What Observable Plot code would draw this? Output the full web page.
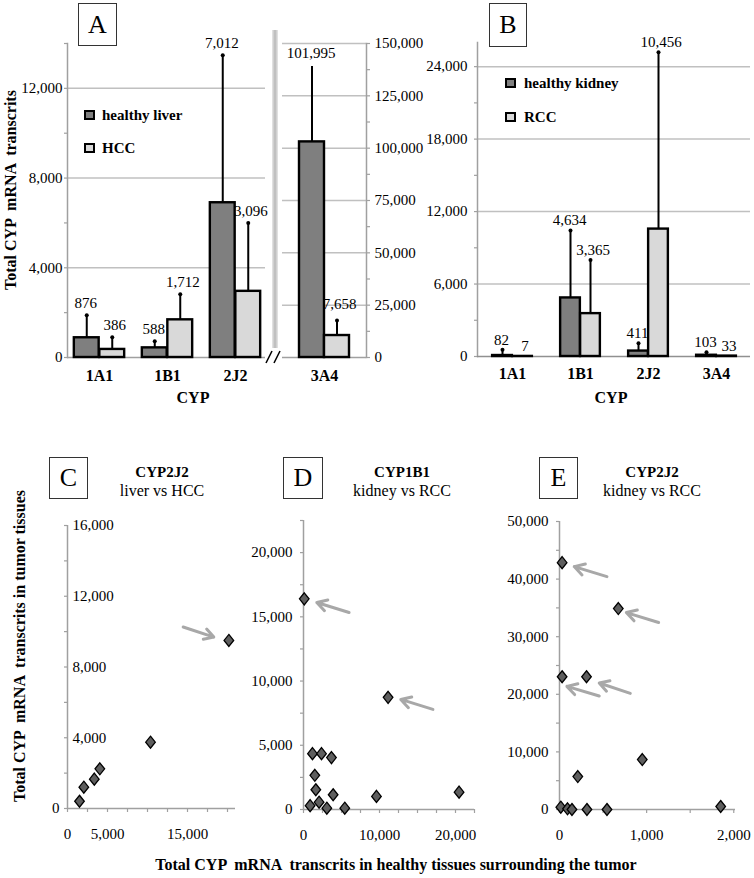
<!DOCTYPE html>
<html><head><meta charset="utf-8">
<script src="https://cdn.jsdelivr.net/npm/d3@7"></script>
<script src="https://cdn.jsdelivr.net/npm/@observablehq/plot@0.6"></script>
<style>
html,body{margin:0;padding:0;background:#fff;}
#fig{position:relative;width:754px;height:878px;overflow:hidden;background:#fff;font-family:'Liberation Serif','Times New Roman',serif;color:#000;}
.t{position:absolute;white-space:pre;transform:translate(-50%,-50%);line-height:1;font-family:'Liberation Serif','Times New Roman',serif;}
.l{position:absolute;white-space:pre;transform:translate(0,-50%);line-height:1;font-family:'Liberation Serif','Times New Roman',serif;}
.box{position:absolute;border:1.3px solid #333;display:flex;align-items:center;justify-content:center;font-size:26px;background:#fff;box-sizing:border-box;font-family:'Liberation Serif','Times New Roman',serif;}
.sw{position:absolute;width:11px;height:10px;border:2px solid #000;box-sizing:border-box;}
.b{font-weight:bold;}
</style></head><body><div id="fig"></div>
<script>
// ---------- data ----------
const cypA = ["1A1", "1B1", "2J2", "3A4"];
const liverBar  = [880, 430, 6900, 103000];
const liverErr  = [1880, 720, 13480, 139000];
const liverMean = [876, 588, 7012, 101995];
const hccBar  = [360, 1680, 2950, 10500];
const hccErr  = [900, 2820, 6000, 17700];
const hccMean = [386, 1712, 3096, 7658];

const cypB = ["1A1", "1B1", "2J2", "3A4"];
const kidneyBar  = [82, 4850, 450, 103];
const kidneyErr  = [550, 10430, 1100, 360];
const kidneyMean = [82, 4634, 411, 103];
const rccBar  = [7, 3550, 10550, 33];
const rccErr  = [7, 8000, 25190, 33];
const rccMean = [7, 3365, 10456, 33];

const ticksA  = [0, 4000, 8000, 12000];
const ticksA2 = [0, 25000, 50000, 75000, 100000, 125000, 150000];
const ticksB  = [0, 6000, 12000, 18000, 24000];

// C: CYP2J2 liver vs HCC
const healthyC = [1500, 2040, 3350, 4040, 10375, 20170];
const tumorC   = [410, 1205, 1660, 2245, 3750, 9500];
const arrowsC  = [[14460, 10260, 18290, 9690]];
const xTicksC = [0, 5000, 15000];
const yTicksC = [4000, 8000, 12000, 16000];

// D: CYP1B1 kidney vs RCC
const healthyD = [100, 11130, 1180, 2370, 3680, 1490, 1620, 3900, 870, 2050, 3070, 5430, 9600, 20470];
const tumorD   = [16400, 8730, 4350, 4350, 4040, 2660, 1540, 1150, 300, 570, 100, 100, 1020, 1350];
const arrowsD  = [[6000, 15340, 1750, 16120], [17030, 7790, 12800, 8570]];
const xTicksD = [0, 10000, 20000];
const yTicksD = [0, 5000, 10000, 15000, 20000];

// E: CYP2J2 kidney vs RCC
const healthyE = [30, 675, 30, 310, 210, 950, 15, 92, 143, 315, 545, 1850];
const tumorE   = [42860, 34890, 23050, 23050, 5720, 8670, 400, 120, 0, 0, 0, 520];
const arrowsE  = [[545, 40430, 169, 42170], [1138, 32460, 767, 34190], [456, 19700, 85, 21370], [813, 20160, 456, 21960]];
const xTicksE = [0, 1000, 2000];
const yTicksE = [0, 10000, 20000, 30000, 40000, 50000];

// ---------- styling ----------
const W = 754, H = 878;
const FONT = "'Liberation Serif','Times New Roman',serif";
const DARK = "#7f7f7f", LIGHT = "#d9d9d9", GRID = "#c0c0c0", AXIS = "#a0a0a0", DOT = "#5e5e5e", ARROW = "#a8a8a8";
const fig = document.getElementById("fig");
const fmt = d3.format(",");

function place(svg) {
  Object.assign(svg.style, {position: "absolute", left: "0px", top: "0px", background: "transparent",
    overflow: "visible", fontFamily: FONT, maxWidth: "none"});
  fig.appendChild(svg);
}
function plotAt([x0, x1, y0, y1], opts) {
  place(Plot.plot({width: W, height: H, marginLeft: x0, marginRight: W - x1, marginTop: y0, marginBottom: H - y1, ...opts}));
}
const rows = (cats, bar, err, mean) => cats.map((c, i) => ({cat: c, value: bar[i], err: err[i], mean: mean[i]}));
function group(data, bw, w, fill, side, labelDy) {
  const dx = side < 0 ? -w / 2 : w / 2;
  return [
    Plot.ruleX(data.filter(d => d.err > d.value), {x: "cat", y1: "value", y2: "err", dx, stroke: "#000", strokeWidth: 2}),
    Plot.barY(data, {x: "cat", y: "value", fill, stroke: "#000", strokeWidth: 2.4,
      insetLeft: side < 0 ? bw / 2 - w : bw / 2, insetRight: side < 0 ? bw / 2 : bw / 2 - w}),
    Plot.dot(data.filter(d => d.err > d.value * 1.5), {x: "cat", y: "err", dx, r: 2, fill: "#000"}),
    Plot.text(data, {x: "cat", y: "err", dx: side < 0 ? dx - 1 : dx + 2.5, dy: labelDy, text: d => fmt(d.mean), fontSize: 15, fontFamily: FONT})
  ];
}
const tickText = {tickSize: 0, tickFormat: d => fmt(d), fontSize: 15, fontFamily: FONT, label: null};
const tickOnly = (ticks, size, anchor) => ({ticks, tickSize: size, fill: "none", stroke: AXIS, strokeWidth: 1.2, label: null, ...(anchor ? {anchor} : {})});
const catAxis = pad => Plot.axisX({tickSize: 0, tickPadding: pad, fontSize: 16, fontWeight: "bold", fontFamily: FONT, label: null});

// ---------- Panel A left ----------
const liverRows = rows(cypA, liverBar, liverErr, liverMean);
const hccRows = rows(cypA, hccBar, hccErr, hccMean);
{
  const r0 = 64, r1 = 270, bw = (r1 - r0) / 3;
  plotAt([67, 265, 43, 357], {
    x: {type: "band", domain: cypA.slice(0, 3), range: [r0, r1], padding: 0, axis: null},
    y: {domain: [0, 14000], axis: null},
    marks: [
      Plot.ruleY(ticksA.slice(1), {stroke: GRID, strokeWidth: 1.5}),
      Plot.frame({anchor: "left", stroke: AXIS, strokeWidth: 1.5}),
      Plot.axisY(tickOnly(d3.range(0, 14001, 2000), 3)),
      Plot.axisY({ticks: ticksA, tickPadding: 5, ...tickText}),
      Plot.ruleY([0], {stroke: AXIS, strokeWidth: 1.5}),
      ...group(liverRows.slice(0, 3), bw, 25.5, DARK, -1, -12),
      ...group(hccRows.slice(0, 3), bw, 25.5, LIGHT, 1, -12),
      catAxis(12)
    ]
  });
}
// ---------- Panel A right (3A4) ----------
plotAt([282, 366, 43, 357], {
  x: {type: "band", domain: cypA.slice(3), padding: 0, axis: null},
  y: {domain: [0, 150000], axis: null},
  marks: [
    Plot.ruleY(ticksA2.slice(1), {stroke: GRID, strokeWidth: 1.5}),
    Plot.frame({anchor: "right", stroke: AXIS, strokeWidth: 1.5}),
    Plot.axisY(tickOnly(d3.range(0, 150001, 12500), 3, "right")),
    Plot.axisY({anchor: "right", ticks: ticksA2, tickPadding: 8, ...tickText}),
    Plot.ruleY([0], {stroke: AXIS, strokeWidth: 1.5}),
    ...group(liverRows.slice(3), 84, 25, DARK, -1, -13),
    ...group(hccRows.slice(3), 84, 25, LIGHT, 1, -16),
    catAxis(12)
  ]
});
// ---------- Panel B ----------
{
  const bw = (750 - 477) / 4;
  plotAt([477, 750, 42, 356], {
    x: {type: "band", domain: cypB, padding: 0, axis: null},
    y: {domain: [0, 26000], axis: null},
    marks: [
      Plot.ruleY(ticksB.slice(1), {stroke: GRID, strokeWidth: 1.5}),
      Plot.frame({anchor: "left", stroke: AXIS, strokeWidth: 1.5}),
      Plot.axisY(tickOnly(d3.range(0, 26001, 3000), 3)),
      Plot.axisY({ticks: ticksB, tickPadding: 10, ...tickText}),
      Plot.ruleY([0], {stroke: "#909090", strokeWidth: 1.5}),
      ...group(rows(cypB, kidneyBar, kidneyErr, kidneyMean), bw, 20, DARK, -1, -10),
      ...group(rows(cypB, rccBar, rccErr, rccMean), bw, 20, LIGHT, 1, -10),
      catAxis(11)
    ]
  });
}
// ---------- scatter panels ----------
const diamond = {draw(ctx, size) {
  const r = Math.sqrt(size / Math.PI), w = r * 0.8;
  ctx.moveTo(0, -r); ctx.lineTo(w, 0); ctx.lineTo(0, r); ctx.lineTo(-w, 0); ctx.closePath();
}};
const pts = (xs, ys) => xs.map((x, i) => ({h: x, t: ys[i]}));
const arr = a => a.map(([x1, y1, x2, y2]) => ({x1, y1, x2, y2}));
function scatter(frame, xdom, ydom, xs, ys, arrows, xMinor, xLab, yMinor, yMarks) {
  plotAt(frame, {
    x: {domain: xdom, axis: null},
    y: {domain: ydom, axis: null},
    marks: [
      Plot.ruleX([0], {stroke: AXIS, strokeWidth: 1.5}),
      Plot.ruleY([0], {stroke: AXIS, strokeWidth: 1.5}),
      Plot.axisY(tickOnly(yMinor, 3)),
      ...yMarks,
      Plot.axisX(tickOnly(xMinor, 4)),
      Plot.axisX({ticks: xLab, tickPadding: 20, ...tickText}),
      Plot.arrow(arr(arrows), {x1: "x1", y1: "y1", x2: "x2", y2: "y2", stroke: ARROW, strokeWidth: 3, headLength: 9, headAngle: 60}),
      Plot.dot(pts(xs, ys), {x: "h", y: "t", r: 6, symbol: diamond, fill: DOT, stroke: "#000", strokeWidth: 1.3})
    ]
  });
}
scatter([67, 235, 525, 808], [0, 21000], [0, 16000], healthyC, tumorC, arrowsC,
  d3.range(0, 20001, 2500), xTicksC, d3.range(0, 16001, 2000), [
    Plot.axisY({ticks: [0], tickPadding: 8, ...tickText}),
    Plot.axisY({ticks: yTicksC, tickPadding: 0, textAnchor: "start", dx: 5, ...tickText})
  ]);
scatter([303, 474, 520, 809], [0, 22500], [0, 22500], healthyD, tumorD, arrowsD,
  d3.range(0, 22501, 2500), xTicksD, d3.range(0, 22501, 2500), [
    Plot.axisY({ticks: yTicksD, tickPadding: 11, ...tickText})
  ]);
scatter([559, 735, 521, 809], [0, 2020], [0, 50000], healthyE, tumorE, arrowsE,
  d3.range(0, 2001, 500), xTicksE, d3.range(0, 50001, 5000), [
    Plot.axisY({ticks: yTicksE, tickPadding: 11, ...tickText})
  ]);

// ---------- HTML annotations ----------
function html(s) { fig.insertAdjacentHTML("beforeend", s); }
// axis break in panel A
html(`<div style="position:absolute;left:272px;top:30px;width:6px;height:318px;background:linear-gradient(90deg,#e8e8e8,#b8b8b8,#e8e8e8)"></div>`);
html(`<svg style="position:absolute;left:263px;top:348px" width="22" height="17"><line x1="3" y1="15" x2="9" y2="3" stroke="#000" stroke-width="1.6"/><line x1="11" y1="15" x2="17" y2="3" stroke="#000" stroke-width="1.6"/></svg>`);
// panel letters
const boxes = [["A", 78, 3, 39, 43], ["B", 489, 3, 38, 44], ["C", 49, 457, 39, 42], ["D", 283, 457, 40, 42], ["E", 539, 457, 39, 42]];
for (const [t, x, y, w, h] of boxes) html(`<div class="box" style="left:${x}px;top:${y}px;width:${w}px;height:${h}px">${t}</div>`);
// legends
html(`<div class="sw" style="left:84px;top:110px;background:${DARK}"></div><div class="l b" style="left:102px;top:115px;font-size:15px">healthy liver</div>`);
html(`<div class="sw" style="left:84px;top:143px;background:${LIGHT}"></div><div class="l b" style="left:102px;top:148px;font-size:15px">HCC</div>`);
html(`<div class="sw" style="left:505px;top:78px;background:${DARK}"></div><div class="l b" style="left:524px;top:83px;font-size:15px">healthy kidney</div>`);
html(`<div class="sw" style="left:505px;top:112px;background:${LIGHT}"></div><div class="l b" style="left:524px;top:117px;font-size:15px">RCC</div>`);
// axis titles
html(`<div class="t b" style="left:11px;top:190px;font-size:16px;transform:translate(-50%,-50%) rotate(-90deg)">Total CYP  mRNA  transcrits</div>`);
html(`<div class="t b" style="left:193px;top:398px;font-size:16px">CYP</div>`);
html(`<div class="t b" style="left:611px;top:398px;font-size:16px">CYP</div>`);
html(`<div class="t b" style="left:20px;top:646px;font-size:16px;transform:translate(-50%,-50%) rotate(-90deg)">Total CYP  mRNA  transcrits in tumor tissues</div>`);
html(`<div class="t b" style="left:396px;top:865px;font-size:16px">Total CYP  mRNA  transcrits in healthy tissues surrounding the tumor</div>`);
// scatter titles
const titles = [["CYP2J2", "liver vs HCC", 162], ["CYP1B1", "kidney vs RCC", 402], ["CYP2J2", "kidney vs RCC", 652]];
for (const [a, b, x] of titles) {
  html(`<div class="t b" style="left:${x}px;top:472px;font-size:15px">${a}</div>`);
  html(`<div class="t" style="left:${x}px;top:491px;font-size:16px">${b}</div>`);
}
</script></body></html>
